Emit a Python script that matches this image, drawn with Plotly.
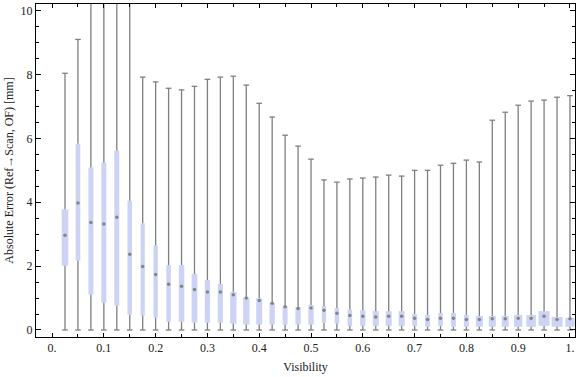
import plotly.graph_objects as go

visibility = [0.025, 0.05, 0.075, 0.1, 0.125, 0.15, 0.175, 0.2, 0.225, 0.25,
              0.275, 0.3, 0.325, 0.35, 0.375, 0.4, 0.425, 0.45, 0.475, 0.5,
              0.525, 0.55, 0.575, 0.6, 0.625, 0.65, 0.675, 0.7, 0.725, 0.75,
              0.775, 0.8, 0.825, 0.85, 0.875, 0.9, 0.925, 0.95, 0.975, 1.0]

whisker_low = [0.0] * 40

q1 = [2.01, 2.17, 1.11, 0.85, 0.77, 0.48, 0.45, 0.39, 0.26, 0.26,
      0.23, 0.23, 0.23, 0.20, 0.17, 0.17, 0.17, 0.17, 0.17, 0.17,
      0.23, 0.20, 0.13, 0.13, 0.13, 0.13, 0.13, 0.13, 0.10, 0.13,
      0.10, 0.10, 0.10, 0.10, 0.10, 0.10, 0.10, 0.13, 0.10, 0.10]

median = [2.97, 3.98, 3.37, 3.32, 3.53, 2.37, 1.99, 1.74, 1.43, 1.37,
          1.27, 1.19, 1.19, 1.10, 1.00, 0.92, 0.84, 0.73, 0.67, 0.69,
          0.62, 0.52, 0.45, 0.43, 0.41, 0.43, 0.43, 0.37, 0.33, 0.37,
          0.37, 0.33, 0.33, 0.35, 0.35, 0.37, 0.37, 0.43, 0.33, 0.35]

q3 = [3.78, 5.83, 5.09, 5.24, 5.61, 4.05, 3.34, 2.65, 2.03, 2.03,
      1.75, 1.56, 1.44, 1.19, 1.02, 0.99, 0.85, 0.75, 0.72, 0.78,
      0.75, 0.69, 0.64, 0.62, 0.59, 0.59, 0.59, 0.50, 0.47, 0.53,
      0.53, 0.47, 0.44, 0.44, 0.44, 0.47, 0.47, 0.59, 0.41, 0.38]

whisker_high = [8.04, 9.10, 11.5, 12.5, 12.0, 11.0, 7.92, 7.77, 7.57, 7.52,
                7.63, 7.85, 7.92, 7.95, 7.67, 7.10, 6.67, 6.10, 5.76, 5.35,
                4.70, 4.63, 4.73, 4.76, 4.79, 4.85, 4.82, 5.00, 5.00, 5.16,
                5.22, 5.32, 5.26, 6.57, 6.82, 7.04, 7.17, 7.20, 7.29, 7.34]

box_widths_px = [6.7, 4.7, 5, 5, 5, 4.5, 4.2, 4.3, 4.5, 5.5,
                 5.7, 5.3, 5.3, 6.3, 6.3, 6, 5.3, 5, 5.3, 5.3,
                 4.3, 4.5, 4.5, 5.2, 6, 6, 6, 5, 5, 4.7,
                 5, 5, 7, 7, 7, 8.2, 9.5, 11, 11, 9.2]

x_tickvals = [0.0, 0.1, 0.2, 0.3, 0.4, 0.5, 0.6, 0.7, 0.8, 0.9, 1.0]
x_ticktext = ["0.", "0.1", "0.2", "0.3", "0.4", "0.5", "0.6", "0.7", "0.8", "0.9", "1."]
y_tickvals = [0, 2, 4, 6, 8, 10]
y_ticktext = ["0", "2", "4", "6", "8", "10"]

X_RANGE = [-0.031, 1.0097]
PLOT_W_PX = 539.0
px_per_unit = PLOT_W_PX / (X_RANGE[1] - X_RANGE[0])
box_widths = [w / px_per_unit for w in box_widths_px]

WHISKER = "#7f7f7f"
BOXFILL = "#ccd3f5"
MEDIAN = "#858585"
FONT = "Liberation Serif"

# whisker segments (outside the boxes)
wx, wy = [], []
for x, lo, a, b, hi in zip(visibility, whisker_low, q1, q3, whisker_high):
    wx += [x, x, None, x, x, None]
    wy += [lo, a, None, b, hi, None]

fig = go.Figure()
fig.add_trace(go.Bar(x=visibility, y=[b - a for a, b in zip(q1, q3)], base=q1,
                     width=box_widths, marker=dict(color=BOXFILL, line=dict(width=0)),
                     hoverinfo="skip", showlegend=False))
fig.add_trace(go.Scatter(x=wx, y=wy, mode="lines",
                         line=dict(color=WHISKER, width=1.3),
                         hoverinfo="skip", showlegend=False))
fig.add_trace(go.Scatter(x=visibility + visibility, y=whisker_low + whisker_high,
                         mode="markers",
                         marker=dict(symbol="line-ew", size=4,
                                     line=dict(color=WHISKER, width=1.3)),
                         hoverinfo="skip", showlegend=False))
fig.add_trace(go.Scatter(x=visibility, y=median, mode="markers",
                         marker=dict(symbol="circle", size=3.5, color=MEDIAN,
                                     line=dict(width=0)),
                         hoverinfo="skip", showlegend=False))

fig.update_layout(
    width=576, height=377,
    margin=dict(l=36, r=1, t=4, b=40),
    paper_bgcolor="white", plot_bgcolor="white",
    font=dict(family=FONT, size=12, color="#222222"),
    barmode="overlay",
    showlegend=False,
    xaxis=dict(range=X_RANGE, tickvals=x_tickvals, ticktext=x_ticktext,
               ticks="inside", ticklen=4, tickcolor="black", tickwidth=1,
               showline=True, linecolor="black", linewidth=1, mirror="ticks",
               showgrid=False, zeroline=False,
               minor=dict(dtick=0.05, tick0=0, ticks="inside", ticklen=3,
                          tickcolor="black", showgrid=False),
               title=dict(text="Visibility", standoff=8, font=dict(size=12)),
               tickfont=dict(size=12)),
    yaxis=dict(range=[-0.22, 10.21], tickvals=y_tickvals, ticktext=y_ticktext,
               ticks="inside", ticklen=5, tickcolor="black", tickwidth=1,
               showline=True, linecolor="black", linewidth=1, mirror="ticks",
               showgrid=False, zeroline=False,
               minor=dict(dtick=0.5, tick0=0, ticks="inside", ticklen=3,
                          tickcolor="black", showgrid=False),
               title=dict(text="Absolute Error (Ref\u2192Scan, OF) [mm]", standoff=4,
                          font=dict(size=12)),
               tickfont=dict(size=12)),
)

fig.write_html("out.html", config={"displayModeBar": False},
               post_script="document.body.style.margin='0';")
